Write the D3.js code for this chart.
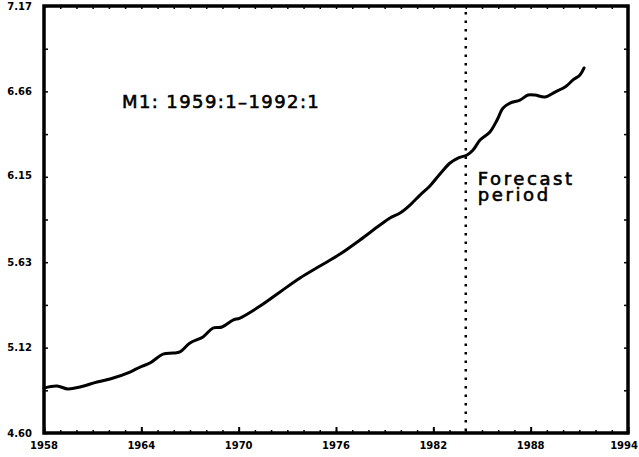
<!DOCTYPE html>
<html>
<head>
<meta charset="utf-8">
<script src="https://cdn.jsdelivr.net/npm/d3@7"></script>
<style>
  body { margin: 0; background: #fff; }
  svg { display: block; }
  .tick-label { font-family: "DejaVu Sans", sans-serif; font-weight: bold; font-size: 10px; fill: #000; }
  .note { font-family: "DejaVu Sans", sans-serif; fill: #000; stroke: #000; stroke-width: 0.6px; }
</style>
</head>
<body>
<svg id="svg"></svg>
<script>
// log M1 (year, value)
const years = [1958.00, 1958.80, 1959.48, 1960.22, 1961.27, 1962.07, 1963.30, 1963.92, 1964.53, 1965.34,
  1965.95, 1966.38, 1967.00, 1967.80, 1968.42, 1968.97, 1969.65, 1970.08, 1971.32, 1972.55,
  1973.78, 1975.01, 1976.25, 1977.48, 1978.71, 1979.33, 1979.95, 1980.56, 1981.18, 1981.79,
  1982.41, 1983.03, 1983.52, 1984.08, 1984.45, 1984.88, 1985.49, 1985.93, 1986.30, 1986.73,
  1987.34, 1987.84, 1988.27, 1988.88, 1989.50, 1990.12, 1990.61, 1991.04, 1991.29];
const m1 = [4.871, 4.883, 4.865, 4.877, 4.907, 4.925, 4.967, 4.997, 5.021, 5.075,
  5.081, 5.088, 5.142, 5.178, 5.232, 5.238, 5.280, 5.292, 5.364, 5.449,
  5.533, 5.605, 5.677, 5.762, 5.852, 5.894, 5.924, 5.972, 6.032, 6.087,
  6.159, 6.225, 6.255, 6.273, 6.303, 6.363, 6.412, 6.484, 6.556, 6.586,
  6.604, 6.634, 6.634, 6.622, 6.652, 6.682, 6.725, 6.755, 6.797];

const xTicks = [1958, 1964, 1970, 1976, 1982, 1988, 1994];
const yTicks = [4.60, 5.12, 5.63, 6.15, 6.66, 7.17];
const yTickLabels = ["4.60", "5.12", "5.63", "6.15", "6.66", "7.17"];
const forecastStart = [1984];
const title = "M1: 1959:1\u20131992:1";
const forecastLabel = ["Forecast", "period"];

const width = 639, height = 457;
const mLeft = 44, mRight = 628, mTop = 6, mBottom = 433;

const svg = d3.select("#svg").attr("width", width).attr("height", height);

const x = d3.scaleLinear().domain([1958, 1994]).range([mLeft, mRight]);
const y = d3.scaleLinear().domain([4.60, 7.17]).range([mBottom, mTop]);

// ticks mineurs : chaque année, et mi-intervalle en y
const xMinor = d3.range(1958, 1995, 1);
const yMinor = d3.range(0, 11).map(i => 4.60 + i * (7.17 - 4.60) / 10);

// axes (ticks vers l'intérieur)
const axisB = d3.axisBottom(x).tickValues(xMinor).tickSize(-3).tickFormat("");
const axisT = d3.axisTop(x).tickValues(xMinor).tickSize(-3).tickFormat("");
const axisL = d3.axisLeft(y).tickValues(yMinor).tickSize(-4).tickFormat("");
const axisR = d3.axisRight(y).tickValues(yMinor).tickSize(-4).tickFormat("");

const axes = [
  [axisB, `translate(0,${mBottom})`],
  [axisT, `translate(0,${mTop})`],
  [axisL, `translate(${mLeft},0)`],
  [axisR, `translate(${mRight},0)`]
];
axes.forEach(([ax, tr]) => {
  const g = svg.append("g").attr("transform", tr).call(ax);
  g.select(".domain").remove();
  g.selectAll("line").attr("stroke", "#000").attr("stroke-width", 1.5);
});

// ticks majeurs en x un peu plus longs
svg.append("g").attr("transform", `translate(0,${mBottom})`)
  .call(d3.axisBottom(x).tickValues(xTicks).tickSize(-6).tickFormat(""))
  .call(g => g.select(".domain").remove())
  .selectAll("line").attr("stroke", "#000").attr("stroke-width", 2);

// cadre
svg.append("rect")
  .attr("x", mLeft).attr("y", mTop)
  .attr("width", mRight - mLeft).attr("height", mBottom - mTop)
  .attr("fill", "none").attr("stroke", "#000").attr("stroke-width", 3.5);

// labels (le dernier collé au bord droit)
const last = xTicks.length - 1;
svg.append("g").selectAll("text")
  .data(xTicks)
  .enter().append("text")
  .attr("class", "tick-label")
  .attr("x", (d, i) => i === last ? width - 1 : x(d))
  .attr("y", mBottom + 16)
  .attr("text-anchor", (d, i) => i === last ? "end" : "middle")
  .text(d => d);

svg.append("g").selectAll("text")
  .data(yTicks)
  .enter().append("text")
  .attr("class", "tick-label")
  .attr("x", mLeft - 12)
  .attr("y", d => y(d) + 4)
  .attr("text-anchor", "end")
  .text((d, i) => yTickLabels[i]);

// ligne pointillée : début de la période de prévision
svg.append("g").selectAll("line")
  .data(forecastStart)
  .enter().append("line")
  .attr("x1", d => x(d)).attr("x2", d => x(d))
  .attr("y1", mTop + 6).attr("y2", mBottom)
  .attr("stroke", "#000")
  .attr("stroke-width", 2.5)
  .attr("stroke-dasharray", "2.5,6");

// la série
const pts = years.map((yr, i) => [yr, m1[i]]);
svg.append("path")
  .datum(pts)
  .attr("fill", "none")
  .attr("stroke", "#000")
  .attr("stroke-width", 3)
  .attr("stroke-linejoin", "round")
  .attr("stroke-linecap", "round")
  .attr("d", d3.line().x(d => x(d[0])).y(d => y(d[1])).curve(d3.curveCatmullRom));

// textes
svg.append("text")
  .attr("class", "note")
  .attr("x", 122).attr("y", 108)
  .attr("font-size", 18)
  .attr("letter-spacing", 1.4)
  .text(title);

svg.append("g").selectAll("text")
  .data(forecastLabel)
  .enter().append("text")
  .attr("class", "note")
  .attr("x", x(forecastStart[0]) + 12)
  .attr("y", (d, i) => 185 + i * 16)
  .attr("font-size", 18)
  .attr("letter-spacing", 2.6)
  .text(d => d);
</script>
</body>
</html>
